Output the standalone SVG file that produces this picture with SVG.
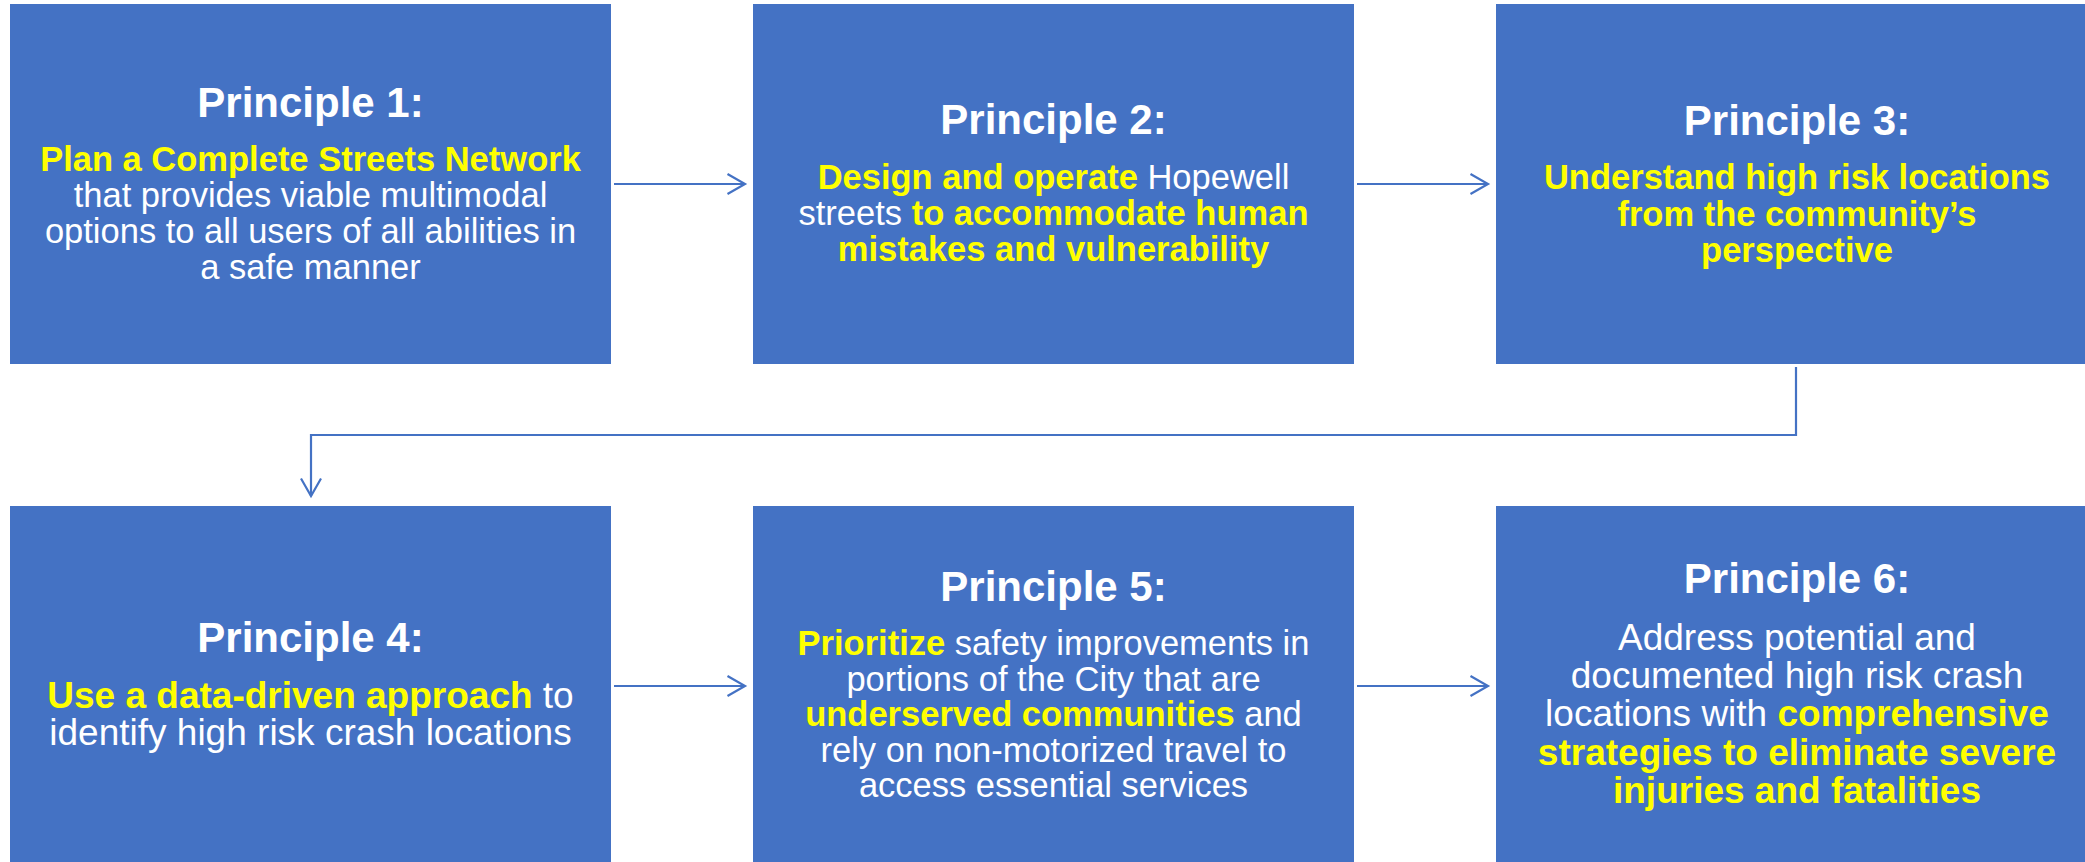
<svg xmlns="http://www.w3.org/2000/svg" width="2085" height="862" viewBox="0 0 2085 862">
  <style>
    .box { fill: #4472C4; }
    text { font-family: "Liberation Sans", Arial, sans-serif; fill: #FFFFFF; text-anchor: middle; }
    .title { font-size: 42px; font-weight: bold; }
    .body { font-size: 34.5px; }
    .body-lg { font-size: 37px; }
    .hl { fill: #FFFF00; font-weight: bold; }
    .conn { fill: none; stroke: #4472C4; stroke-width: 2.2; }
  </style>
  <defs>
    <marker id="arrow" markerUnits="userSpaceOnUse" markerWidth="24" markerHeight="24" refX="19" refY="11" orient="auto">
      <path d="M1.5,1 L19,11 L1.5,21" fill="none" stroke="#4472C4" stroke-width="2.2"/>
    </marker>
  </defs>
  <rect width="2085" height="862" fill="#FFFFFF"/>

  <!-- connectors between principles -->
  <g id="connectors">
    <line class="conn" x1="614" y1="184" x2="745" y2="184" marker-end="url(#arrow)"/>
    <line class="conn" x1="1357" y1="184" x2="1488" y2="184" marker-end="url(#arrow)"/>
    <polyline class="conn" points="1796,367 1796,435 311,435 311,496" marker-end="url(#arrow)"/>
    <line class="conn" x1="614" y1="686" x2="745" y2="686" marker-end="url(#arrow)"/>
    <line class="conn" x1="1357" y1="686" x2="1488" y2="686" marker-end="url(#arrow)"/>
  </g>

  <g id="principle-1">
    <rect class="box" x="10" y="4" width="601" height="360"/>
    <text class="title" x="310.5" y="117">Principle 1:</text>
    <text class="body" x="310.5" y="171"><tspan class="hl">Plan a Complete Streets Network</tspan></text>
    <text class="body" x="310.5" y="207">that provides viable multimodal</text>
    <text class="body" x="310.5" y="243">options to all users of all abilities in</text>
    <text class="body" x="310.5" y="279">a safe manner</text>
  </g>

  <g id="principle-2">
    <rect class="box" x="753" y="4" width="601" height="360"/>
    <text class="title" x="1053.5" y="134">Principle 2:</text>
    <text class="body" x="1053.5" y="189"><tspan class="hl">Design and operate</tspan> Hopewell</text>
    <text class="body" x="1053.5" y="225">streets <tspan class="hl">to accommodate human</tspan></text>
    <text class="body" x="1053.5" y="261"><tspan class="hl">mistakes and vulnerability</tspan></text>
  </g>

  <g id="principle-3">
    <rect class="box" x="1496" y="4" width="601" height="360"/>
    <text class="title" x="1797" y="135">Principle 3:</text>
    <text class="body" x="1797" y="189"><tspan class="hl">Understand high risk locations</tspan></text>
    <text class="body" x="1797" y="226"><tspan class="hl">from the community’s</tspan></text>
    <text class="body" x="1797" y="262"><tspan class="hl">perspective</tspan></text>
  </g>

  <g id="principle-4">
    <rect class="box" x="10" y="506" width="601" height="360"/>
    <text class="title" x="310.5" y="652">Principle 4:</text>
    <text class="body-lg" x="310.5" y="708"><tspan class="hl">Use a data-driven approach</tspan> to</text>
    <text class="body-lg" x="310.5" y="745">identify high risk crash locations</text>
  </g>

  <g id="principle-5">
    <rect class="box" x="753" y="506" width="601" height="360"/>
    <text class="title" x="1053.5" y="601">Principle 5:</text>
    <text class="body" x="1053.5" y="655"><tspan class="hl">Prioritize</tspan> safety improvements in</text>
    <text class="body" x="1053.5" y="691">portions of the City that are</text>
    <text class="body" x="1053.5" y="726"><tspan class="hl">underserved communities</tspan> and</text>
    <text class="body" x="1053.5" y="762">rely on non-motorized travel to</text>
    <text class="body" x="1053.5" y="797">access essential services</text>
  </g>

  <g id="principle-6">
    <rect class="box" x="1496" y="506" width="601" height="360"/>
    <text class="title" x="1797" y="593">Principle 6:</text>
    <text class="body-lg" x="1797" y="650">Address potential and</text>
    <text class="body-lg" x="1797" y="688">documented high risk crash</text>
    <text class="body-lg" x="1797" y="726">locations with <tspan class="hl">comprehensive</tspan></text>
    <text class="body-lg" x="1797" y="765"><tspan class="hl">strategies to eliminate severe</tspan></text>
    <text class="body-lg" x="1797" y="803"><tspan class="hl">injuries and fatalities</tspan></text>
  </g>
</svg>
